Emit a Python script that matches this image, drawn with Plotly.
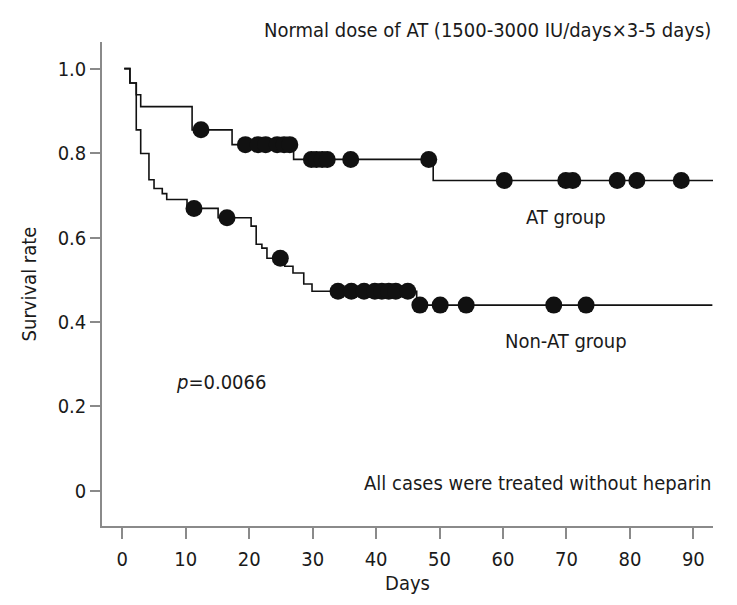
import plotly.graph_objects as go

# ---- data ----
at_times = [0.3, 1.2, 2.2, 2.9, 11.0, 17.3, 27.0, 49.0, 93.1]
at_surv = [1.0, 0.966, 0.938, 0.910, 0.855, 0.820, 0.785, 0.735, 0.735]
at_censored = [12.4, 19.4, 21.4, 22.6, 24.4, 25.5, 26.4, 29.8, 30.6, 31.5, 32.3,
               36.0, 48.3, 60.2, 69.9, 71.0, 78.0, 81.1, 88.1]

non_times = [0.3, 1.2, 2.2, 2.9, 4.2, 5.0, 6.3, 7.0, 10.2, 15.1, 20.3, 21.1, 22.0,
             22.8, 25.6, 26.9, 28.6, 29.9, 46.4, 93.0]
non_surv = [1.0, 0.966, 0.855, 0.799, 0.737, 0.716, 0.704, 0.690, 0.669, 0.647, 0.627,
            0.584, 0.575, 0.551, 0.532, 0.516, 0.490, 0.473, 0.440, 0.440]
non_censored = [11.3, 16.5, 24.9, 34.0, 36.1, 38.1, 39.8, 40.9, 42.0, 43.1, 45.0,
                46.9, 50.1, 54.2, 68.0, 73.1]

x_ticks = [0, 10, 20, 30, 40, 50, 60, 70, 80, 90]
y_ticks = [0, 0.2, 0.4, 0.6, 0.8, 1.0]
y_ticktext = ["0", "0.2", "0.4", "0.6", "0.8", "1.0"]


def surv_at(times, surv, t):
    val = surv[0]
    for ti, si in zip(times, surv):
        if ti <= t:
            val = si
    return val


FONT = "DejaVu Sans Condensed, Liberation Sans Narrow, sans-serif"
TXT = "#1a1a1a"

fig = go.Figure()
for times, surv, cens in [(at_times, at_surv, at_censored),
                          (non_times, non_surv, non_censored)]:
    fig.add_trace(go.Scatter(x=times, y=surv, mode="lines", line_shape="hv",
                             line=dict(color="#111111", width=1.6),
                             showlegend=False, hoverinfo="skip"))
    fig.add_trace(go.Scatter(x=cens, y=[surv_at(times, surv, t) for t in cens],
                             mode="markers",
                             marker=dict(color="#111111", size=17, line=dict(width=0)),
                             showlegend=False))

ann = dict(showarrow=False, font=dict(family=FONT, size=20, color=TXT))
fig.add_annotation(text="Normal dose of AT (1500-3000 IU/days×3-5 days)",
                   xref="paper", yref="paper", x=1.0, y=1.0, xanchor="right",
                   yanchor="bottom", yshift=-2, **ann)
fig.add_annotation(text="AT group", x=70.0, y=0.648, xanchor="center", **ann)
fig.add_annotation(text="Non-AT group", x=70.0, y=0.355, xanchor="center", **ann)
fig.add_annotation(text="<i>p</i>=0.0066", x=15.5, y=0.258, xanchor="center", **ann)
fig.add_annotation(text="All cases were treated without heparin",
                   xref="paper", x=1.0, y=0.02, xanchor="right", **ann)

# page body has an 8px margin, so the figure is sized/offset to compensate
fig.update_layout(
    width=729, height=597,
    margin=dict(l=94, r=24, t=34, b=79),
    paper_bgcolor="white", plot_bgcolor="white",
    font=dict(family=FONT, size=20, color=TXT),
    xaxis=dict(range=[-3.2, 93.1], tickvals=x_ticks, showgrid=False, zeroline=False,
               automargin=False,
               showline=True, linecolor="#8a8a8a", linewidth=1.5,
               ticks="outside", ticklen=11, tickwidth=1.5, tickcolor="#8a8a8a",
               ticklabelstandoff=3,
               tickfont=dict(size=20),
               title=dict(text="Days", font=dict(size=20), standoff=1)),
    yaxis=dict(range=[-0.083, 1.063], tickvals=y_ticks, ticktext=y_ticktext,
               showgrid=False, zeroline=False, automargin=False,
               showline=True, linecolor="#8a8a8a", linewidth=1.5,
               ticks="outside", ticklen=10, tickwidth=1.5, tickcolor="#8a8a8a",
               tickfont=dict(size=20),
               title=dict(text="Survival rate", font=dict(size=20), standoff=16)),
)

fig.write_html("out.html")
